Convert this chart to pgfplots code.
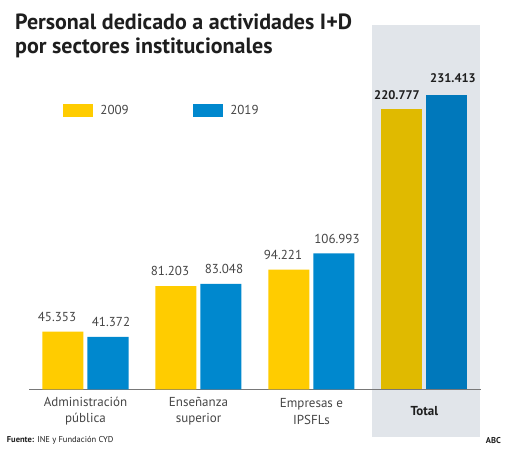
\documentclass[border=0pt]{standalone}
\usepackage{fontspec}
\setmainfont{PT Sans}
\usepackage{pgfplots}
\pgfplotsset{compat=1.18}

\definecolor{amarillo}{RGB}{255,204,0}
\definecolor{azul}{RGB}{0,136,206}
\definecolor{amarilloT}{RGB}{224,186,0}
\definecolor{azulT}{RGB}{0,120,187}
\definecolor{fondo}{RGB}{225,229,234}
\definecolor{texto}{RGB}{70,70,70}
\definecolor{titulo}{RGB}{30,30,30}
\definecolor{linea}{RGB}{120,120,120}

\begin{document}
\begin{tikzpicture}
% lienzo y recuadro del total
\fill[white] (0pt,0pt) rectangle (507pt,450pt);
\fill[fondo] (372pt,12.7pt) rectangle (480pt,425pt);

% titulo
\node[anchor=base west, inner sep=0pt, text=titulo,
      font=\bfseries\fontsize{22}{24}\selectfont] at (15pt,420.5pt)
      {Personal dedicado a actividades I+D};
\node[anchor=base west, inner sep=0pt, text=titulo,
      font=\bfseries\fontsize{22}{24}\selectfont] at (15pt,396.5pt)
      {por sectores institucionales};

\begin{axis}[
    at={(29pt,60.7pt)}, anchor=south west,
    scale only axis, width=452pt, height=317.5pt,
    xmin=-0.5, xmax=3.5, ymin=0, ymax=250,
    clip=false,
    axis y line=none,
    axis x line*=bottom,
    x axis line style={draw=linea, line width=0.9pt},
    major tick length=0pt,
    xtick={0,1,2,3},
    xticklabels={Administración\\pública, Enseñanza\\superior, Empresas e\\IPSFLs, {\bfseries\color{titulo}Total}},
    xticklabel style={align=center, anchor=center, yshift=-22pt, inner sep=0pt,
        font=\fontsize{13}{16.5}\selectfont, text=texto},
    ybar, bar width=41pt,
    nodes near coords,
    every node near coord/.append style={anchor=south, inner sep=0pt, yshift=10pt,
        font=\fontsize{13}{14}\selectfont, text=texto},
    /pgf/number format/fixed,
    /pgf/number format/fixed zerofill,
    /pgf/number format/precision=3,
    /pgf/number format/assume math mode=true,
    legend columns=2,
    legend style={at={(0.0746,0.8775)}, anchor=west, draw=none, fill=none,
        inner sep=0pt, font=\fontsize{13}{15}\selectfont, text=texto,
        nodes={inner sep=0pt},
        /tikz/every odd column/.append style={column sep=7.5pt},
        /tikz/every even column/.append style={column sep=64pt}},
    legend image code/.code={\fill[#1] (0pt,-6.6pt) rectangle (30pt,6.6pt);},
]
\addplot[fill=amarillo, draw=none, bar shift=-22.5pt,
    every node near coord/.append style={xshift=-6pt}]
    coordinates {(0,45.353) (1,81.203) (2,94.221)};
\addplot[fill=azul, draw=none, bar shift=22.5pt,
    every node near coord/.append style={xshift=3pt}]
    coordinates {(0,41.372) (1,83.048) (2,106.993)};
\addplot[fill=amarilloT, draw=none, bar shift=-22.5pt,
    every node near coord/.append style={xshift=-5pt, yshift=-1.3pt,
        font=\bfseries\fontsize{12.5}{13}\selectfont, text=titulo}]
    coordinates {(3,220.777)};
\addplot[fill=azulT, draw=none, bar shift=22.5pt,
    every node near coord/.append style={xshift=6pt, yshift=3pt,
        font=\bfseries\fontsize{12.5}{13}\selectfont, text=titulo}]
    coordinates {(3,231.413)};
\legend{2009,2019}
\end{axis}

% pie
\node[anchor=base west, inner sep=0pt, text=titulo, font=\fontsize{8.5}{10}\selectfont]
    at (6.7pt,7.7pt) {\textbf{Fuente:} INE y Fundación CYD};
\node[anchor=base east, inner sep=0pt, text=titulo, font=\bfseries\fontsize{8.5}{10}\selectfont]
    at (501pt,6pt) {ABC};
\end{tikzpicture}
\end{document}
